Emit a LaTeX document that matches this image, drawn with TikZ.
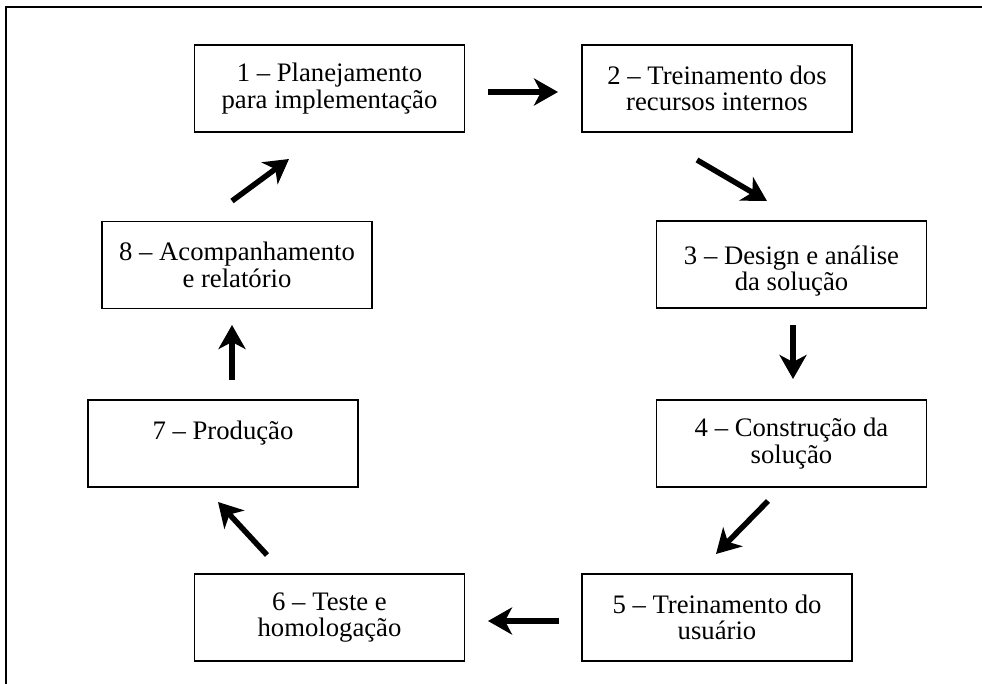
\documentclass[tikz,border=0pt]{standalone}
\usepackage{fontspec}
\setmainfont{Liberation Serif}
\usetikzlibrary{arrows.meta}
\begin{document}
\begin{tikzpicture}[x=1pt,y=-1pt,
  stagebox/.style={draw, line width=1.8pt, rectangle, minimum width=270pt,
    minimum height=87pt, inner sep=0pt, align=center,
    font=\fontsize{26.7}{26.5}\selectfont},
  flow/.style={line width=5.5pt, -{Stealth[length=24pt, width=27pt, inset=7pt]}}]
\useasboundingbox (0,0) rectangle (982,684);
% open frame around the cycle
\draw[line width=1.8pt] (6,684) -- (6,7) -- (982,7);

% stages of the implementation cycle
\node[stagebox] (b1) at (329.5,88.5) {1 – Planejamento\\para implementação};
\node[stagebox] (b2) at (717,88.5) {2 – Treinamento dos\\recursos internos};
\node[stagebox] (b3) at (791.5,264.5) {\rule{0pt}{32pt}3 – Design e análise\\da solução};
\node[stagebox] (b4) at (791.5,443.5) {4 – Construção da\\solução};
\node[stagebox] (b5) at (717,617.5) {5 – Treinamento do\\usuário};
\node[stagebox] (b6) at (329.5,617.5) {6 – Teste e\\homologação};
\node[stagebox] (b7) at (223,443.5) {7 – Produção\\\mbox{}};
\node[stagebox] (b8) at (237,265) {8 – Acompanhamento\\e relatório};

% arrow ends between the stages
\coordinate (a12s) at (488,92);  \coordinate (a12e) at (558,92);
\coordinate (a23s) at (697,160); \coordinate (a23e) at (767,201);
\coordinate (a34s) at (793,325); \coordinate (a34e) at (793,379);
\coordinate (a45s) at (768,501); \coordinate (a45e) at (716,554);
\coordinate (a56s) at (559,621); \coordinate (a56e) at (488,621);
\coordinate (a67s) at (267,555); \coordinate (a67e) at (218,502);
\coordinate (a78s) at (232,380); \coordinate (a78e) at (232,325);
\coordinate (a81s) at (232,201); \coordinate (a81e) at (289,159);

\draw[flow] (a12s) -- (a12e);
\draw[flow] (a23s) -- (a23e);
\draw[flow] (a34s) -- (a34e);
\draw[flow] (a45s) -- (a45e);
\draw[flow] (a56s) -- (a56e);
\draw[flow] (a67s) -- (a67e);
\draw[flow] (a78s) -- (a78e);
\draw[flow] (a81s) -- (a81e);
\end{tikzpicture}
\end{document}
